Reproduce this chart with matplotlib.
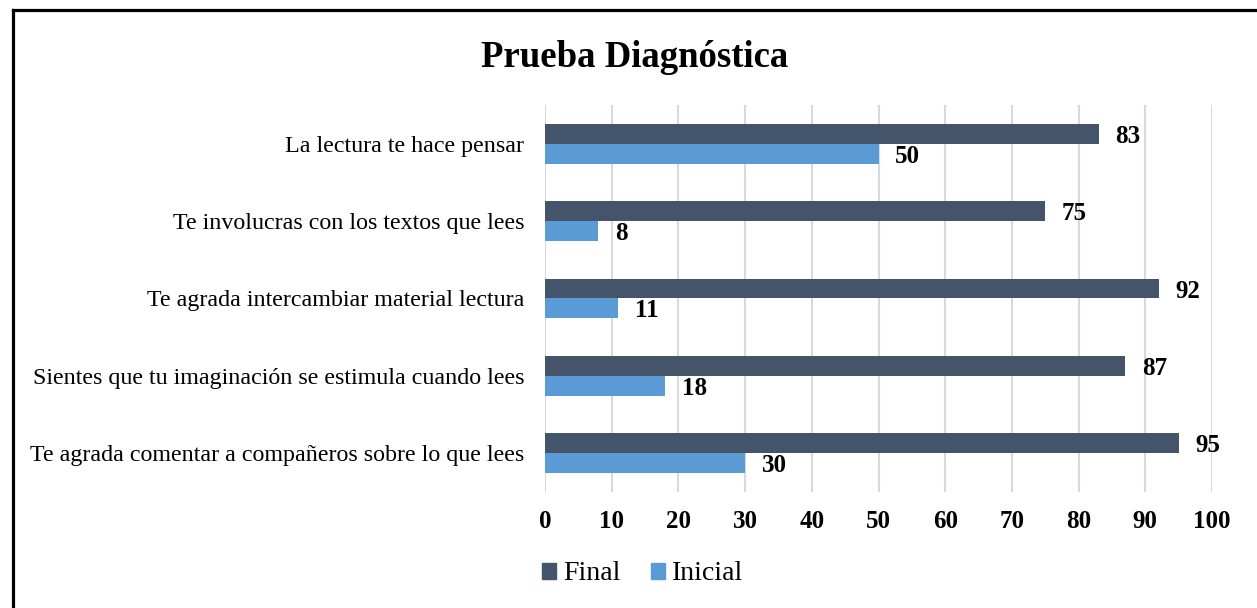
import numpy as np
import matplotlib
matplotlib.use("Agg")
import matplotlib.pyplot as plt
from matplotlib.lines import Line2D

categories = [
    "La lectura te hace pensar",
    "Te involucras con los textos que lees",
    "Te agrada intercambiar material lectura",
    "Sientes que tu imaginación se estimula cuando lees",
    "Te agrada comentar a compañeros sobre lo que lees",
]
final_vals = [83, 75, 92, 87, 95]
inicial_vals = [50, 8, 11, 18, 30]
x_ticks = [0, 10, 20, 30, 40, 50, 60, 70, 80, 90, 100]

plt.rcParams['font.family'] = ['Liberation Serif', 'DejaVu Serif']

fig = plt.figure(figsize=(12.57, 6.08), dpi=100)
ax = fig.add_axes([0.4336, 0.1908, 0.5306, 0.6365])

y = np.arange(len(categories))
h = 0.257
c_final = "#44546A"
c_ini = "#5B9BD5"

b1 = ax.barh(y - h / 2, final_vals, height=h, color=c_final, label="Final", zorder=3)
b2 = ax.barh(y + h / 2, inicial_vals, height=h, color=c_ini, label="Inicial", zorder=3)

for bars, vals in [(b1, final_vals), (b2, inicial_vals)]:
    for rect, v in zip(bars, vals):
        ax.annotate(str(v), (rect.get_width(), rect.get_y() + rect.get_height() / 2),
                    xytext=(12, 0), textcoords="offset points", ha="left",
                    va="center_baseline", fontsize=18, fontweight="bold")

ax.set_xlim(0, 100)
ax.set_ylim(len(categories) - 0.5, -0.5)
ax.set_xticks(x_ticks)
ax.set_yticks(y)
ax.set_yticklabels(categories, fontsize=17.3)
for lbl in ax.get_xticklabels():
    lbl.set_fontsize(18)
    lbl.set_fontweight("bold")
ax.tick_params(axis="y", length=0, pad=15)
ax.tick_params(axis="x", length=0, pad=13)
ax.xaxis.grid(True, color="#D9D9D9", linewidth=1.5, zorder=0)
for s in ax.spines.values():
    s.set_visible(False)

fig.text(0.505, 0.905, "Prueba Diagnóstica", ha="center", va="center",
         fontsize=26.5, fontweight="bold")

handles = [plt.Rectangle((0, 0), 1, 1, color=c_final), plt.Rectangle((0, 0), 1, 1, color=c_ini)]
fig.legend(handles, ["Final", "Inicial"], loc="center", bbox_to_anchor=(0.511, 0.056),
           ncol=2, frameon=False, fontsize=20, handlelength=0.5, handleheight=0.5,
           handletextpad=0.25, columnspacing=1.1)

# frame border (top and left visible)
fig.add_artist(Line2D([12.5 / 1257, 1.0], [1 - 10 / 608, 1 - 10 / 608],
                      transform=fig.transFigure, color="black", linewidth=2.3))
fig.add_artist(Line2D([12.5 / 1257, 12.5 / 1257], [0.0, 1 - 10 / 608],
                      transform=fig.transFigure, color="black", linewidth=2.3))

fig.savefig("out.png", dpi=100)
